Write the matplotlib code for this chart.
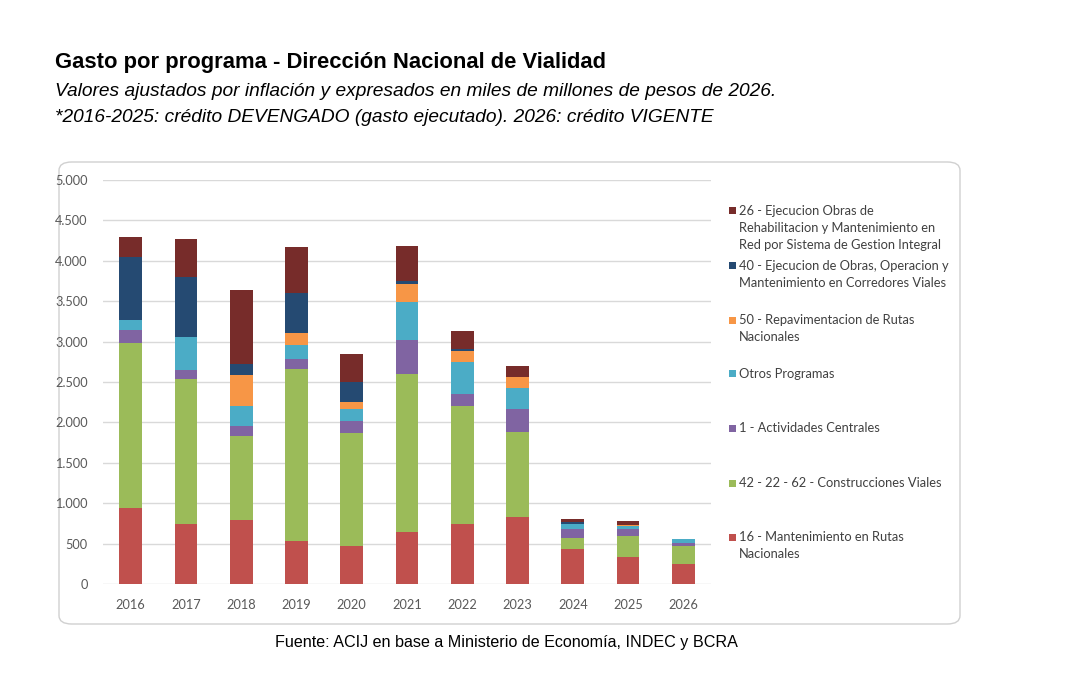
import matplotlib
matplotlib.use("Agg")
import matplotlib.pyplot as plt
from matplotlib.patches import FancyBboxPatch, Rectangle
from matplotlib.ticker import FuncFormatter
import numpy as np

years = ["2016", "2017", "2018", "2019", "2020", "2021", "2022", "2023", "2024", "2025", "2026"]

mantenimiento_16 = [936, 746, 787, 532, 466, 639, 738, 824, 433, 330, 243]
construcciones_42_22_62 = [2048, 1785, 1039, 2131, 1401, 1966, 1467, 1056, 136, 259, 227]
actividades_centrales_1 = [161, 119, 132, 123, 145, 416, 149, 284, 111, 95, 37]
otros_programas = [124, 413, 239, 174, 152, 474, 391, 264, 58, 29, 45]
repavimentacion_50 = [0, 0, 392, 152, 87, 215, 140, 128, 5, 13, 0]
corredores_40 = [775, 742, 132, 487, 243, 41, 25, 10, 30, 10, 0]
gestion_integral_26 = [255, 461, 915, 577, 358, 429, 219, 136, 31, 43, 0]

series = [
    ("16 - Mantenimiento en Rutas\nNacionales", mantenimiento_16, "#C0504D"),
    ("42 - 22 - 62 - Construcciones Viales", construcciones_42_22_62, "#9BBB59"),
    ("1 - Actividades Centrales", actividades_centrales_1, "#8064A2"),
    ("Otros Programas", otros_programas, "#4BACC6"),
    ("50 - Repavimentacion de Rutas\nNacionales", repavimentacion_50, "#F79646"),
    ("40 - Ejecucion de Obras, Operacion y\nMantenimiento en Corredores Viales", corredores_40, "#254A72"),
    ("26 - Ejecucion Obras de\nRehabilitacion y Mantenimiento en\nRed por Sistema de Gestion Integral", gestion_integral_26, "#772C2A"),
]

W, H = 1065, 695
fig = plt.figure(figsize=(W / 100, H / 100), dpi=100)
fig.patch.set_facecolor("white")

# chart frame
frame = FancyBboxPatch((59 / W, 1 - 624 / H), (960 - 59) / W, (624 - 162) / H,
                       boxstyle="round,pad=0,rounding_size=0.012",
                       transform=fig.transFigure, facecolor="white",
                       edgecolor="#D0D0D0", linewidth=1.0, zorder=0)
fig.add_artist(frame)

ax = fig.add_axes([103 / W, 1 - 584 / H, (711 - 103) / W, (584 - 180) / H])
ax.set_facecolor("none")
x = np.arange(len(years))
bottom = np.zeros(len(years))
for label, vals, color in series:
    v = np.array(vals, dtype=float)
    ax.bar(x, v, bottom=bottom, width=0.41, color=color, zorder=3, linewidth=0)
    bottom += v

ax.set_xlim(-0.5, len(years) - 0.5)
ax.set_ylim(0, 5000)
ax.set_yticks(np.arange(0, 5001, 500))
ax.yaxis.set_major_formatter(FuncFormatter(lambda v, p: f"{int(v):,}".replace(",", ".")))
ax.set_xticks(x)
ax.set_xticklabels(years)
ax.grid(axis="y", color="#D9D9D9", linewidth=1.0, zorder=0)
for s in ax.spines.values():
    s.set_visible(False)
ax.tick_params(axis="both", length=0, colors="#595959", labelsize=9.2)
ax.tick_params(axis="y", pad=11)
ax.tick_params(axis="x", pad=11)
for t in ax.get_xticklabels() + ax.get_yticklabels():
    t.set_fontfamily(["Lato", "DejaVu Sans"])

# legend (top entry first), one text per line
legend_first_centers = [210.7, 265.7, 320, 374, 428.3, 483.3, 537.3]
line_step = 17
for (label, vals, color), yc in zip(reversed(series), legend_first_centers):
    fig.add_artist(Rectangle((729 / W, 1 - (yc + 3.5) / H), 7 / W, 7 / H,
                             transform=fig.transFigure, facecolor=color,
                             edgecolor="none"))
    for i, line in enumerate(label.split("\n")):
        fig.text(739 / W, 1 - (yc + i * line_step) / H, line, ha="left", va="center",
                 fontsize=9.3, color="#404040", family=["Lato", "DejaVu Sans"])

# titles
fig.text(55 / W, 1 - 68.3 / H, "Gasto por programa - Dirección Nacional de Vialidad",
         ha="left", va="baseline", fontsize=15.8, fontweight="bold",
         family=["Liberation Sans", "DejaVu Sans"], color="black")
fig.text(55 / W, 1 - 96 / H,
         "Valores ajustados por inflación y expresados en miles de millones de pesos de 2026.",
         ha="left", va="baseline", fontsize=13.8, style="italic",
         family=["Liberation Sans", "DejaVu Sans"], color="black")
fig.text(55 / W, 1 - 122.3 / H,
         "*2016-2025: crédito DEVENGADO (gasto ejecutado). 2026: crédito VIGENTE",
         ha="left", va="baseline", fontsize=13.8, style="italic",
         family=["Liberation Sans", "DejaVu Sans"], color="black")
fig.text(506 / W, 1 - 646.7 / H,
         "Fuente: ACIJ en base a Ministerio de Economía, INDEC y BCRA",
         ha="center", va="baseline", fontsize=11.6,
         family=["Liberation Sans", "DejaVu Sans"], color="black")

fig.savefig("out.png", dpi=100, facecolor="white")
